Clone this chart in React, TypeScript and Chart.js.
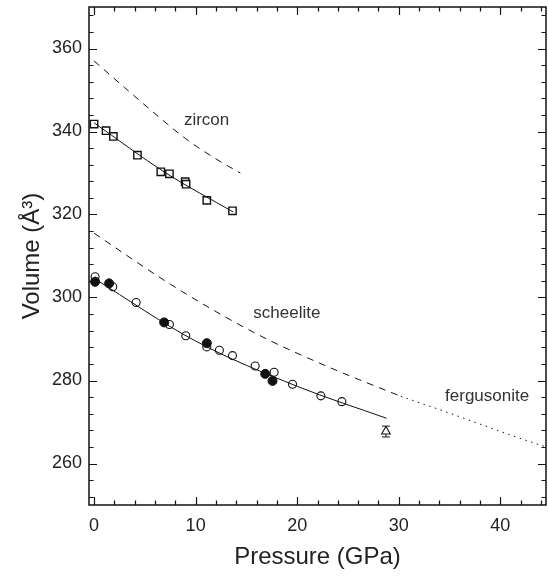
import { useEffect, useRef } from "react";
import { Chart, registerables } from "chart.js";

Chart.register(...registerables);

// ---- data ----
const zirconP = [0.0, 1.18, 1.9, 4.27, 6.57, 7.42, 8.97, 9.06, 11.1, 13.63];
const zirconV = [341.8, 340.2, 338.8, 334.3, 330.3, 329.8, 327.9, 327.3, 323.4, 320.9];

const openP = [0.1, 1.84, 4.14, 7.42, 9.03, 11.1, 12.34, 13.63, 15.86, 17.73, 19.54, 22.33, 24.4];
const openV = [305.0, 302.6, 298.8, 293.5, 290.8, 288.1, 287.3, 286.0, 283.5, 282.0, 279.1, 276.3, 274.9];

const filledP = [0.1, 1.48, 6.9, 11.1, 16.85, 17.57];
const filledV = [303.8, 303.4, 294.0, 289.0, 281.6, 279.9];
const filledErr = [1.2, 1.2, 0.6, 0.8, 0.6, 0.6];

const triP = [28.74];
const triV = [267.7];
const triErr = [1.3];

const zirconFitP = [0, 7, 13.7];
const zirconFitV = [342.1, 330.1, 320.6];

const scheeliteFitP = [0, 10, 20, 28.8];
const scheeliteFitV = [304.6, 289.5, 278.6, 270.9];

const zirconEosP = [0, 3, 6, 9, 12, 14.4];
const zirconEosV = [357.0, 350.6, 344.3, 338.3, 333.4, 330.0];

const scheeliteEosP = [0, 3, 7, 12, 17, 22, 26, 30.2];
const scheeliteEosV = [315.5, 310.5, 304.0, 296.6, 290.0, 284.4, 280.3, 276.2];

const fergusoniteEosP = [30.2, 34, 38, 41.3, 44.5];
const fergusoniteEosV = [276.2, 273.0, 269.5, 266.6, 264.0];

const labelTexts = ["zircon", "scheelite", "fergusonite"];
const labelP = [11.08, 18.98, 38.7];
const labelV = [342.8, 296.3, 276.3];

const xMajorTicks = [0, 10, 20, 30, 40];
const yMajorTicks = [260, 280, 300, 320, 340, 360];

const FONT = '"Liberation Sans", Arial, Helvetica, sans-serif';

const pts = (xs: number[], ys: number[]) => xs.map((x, i) => ({ x, y: ys[i] }));

const framePlugin = {
  id: "frame",
  afterDraw(chart: any) {
    const { ctx, chartArea, scales } = chart;
    const { left, right, top, bottom } = chartArea;
    const xs = scales.x;
    const ys = scales.y;
    ctx.save();
    ctx.strokeStyle = "#111";
    ctx.lineWidth = 1.5;
    ctx.strokeRect(left, top, right - left, bottom - top);
    ctx.lineWidth = 1.2;
    ctx.beginPath();
    for (let v = 0; v <= 44; v += 2) {
      const px = Math.round(xs.getPixelForValue(v)) + 0.5;
      const len = v % 10 === 0 ? 8 : 4.5;
      ctx.moveTo(px, bottom);
      ctx.lineTo(px, bottom - len);
      ctx.moveTo(px, top);
      ctx.lineTo(px, top + len);
    }
    for (let v = 252; v <= 368; v += 4) {
      const py = Math.round(ys.getPixelForValue(v)) + 0.5;
      const len = v % 20 === 0 ? 8 : 4.5;
      ctx.moveTo(left, py);
      ctx.lineTo(left + len, py);
      ctx.moveTo(right, py);
      ctx.lineTo(right - len, py);
    }
    ctx.stroke();
    ctx.restore();
  },
};

const errorPlugin = {
  id: "errbars",
  beforeDatasetsDraw(chart: any) {
    const { ctx, scales } = chart;
    const drawSet = (xsArr: number[], ysArr: number[], errs: number[], cap: number) => {
      ctx.save();
      ctx.strokeStyle = "#111";
      ctx.lineWidth = 1;
      ctx.beginPath();
      xsArr.forEach((x, i) => {
        const px = scales.x.getPixelForValue(x);
        const y1 = scales.y.getPixelForValue(ysArr[i] - errs[i]);
        const y2 = scales.y.getPixelForValue(ysArr[i] + errs[i]);
        ctx.moveTo(px, y1);
        ctx.lineTo(px, y2);
        if (cap > 0) {
          ctx.moveTo(px - cap, y1);
          ctx.lineTo(px + cap, y1);
          ctx.moveTo(px - cap, y2);
          ctx.lineTo(px + cap, y2);
        }
      });
      ctx.stroke();
      ctx.restore();
    };
    drawSet(filledP, filledV, filledErr, 0);
    drawSet(triP, triV, triErr, 4);
  },
};

const labelPlugin = {
  id: "phaseLabels",
  afterDatasetsDraw(chart: any) {
    const { ctx, scales } = chart;
    ctx.save();
    ctx.fillStyle = "#333";
    ctx.font = `17px ${FONT}`;
    ctx.textAlign = "center";
    ctx.textBaseline = "middle";
    labelTexts.forEach((t, i) => {
      ctx.fillText(t, scales.x.getPixelForValue(labelP[i]), scales.y.getPixelForValue(labelV[i]));
    });
    ctx.restore();
  },
};

export default function App() {
  const ref = useRef<HTMLCanvasElement>(null);
  useEffect(() => {
    const canvas = ref.current;
    if (!canvas) return;
    const lineBase = {
      showLine: true,
      pointRadius: 0,
      pointHoverRadius: 0,
      borderColor: "#111",
      borderWidth: 1,
      tension: 0.4,
      cubicInterpolationMode: "monotone" as const,
      fill: false,
    };
    const chart = new Chart(canvas, {
      type: "scatter",
      data: {
        datasets: [
          { ...lineBase, data: pts(zirconEosP, zirconEosV), borderDash: [7, 6] },
          { ...lineBase, data: pts(scheeliteEosP, scheeliteEosV), borderDash: [7, 6] },
          { ...lineBase, data: pts(fergusoniteEosP, fergusoniteEosV), borderDash: [1.5, 4.5] },
          { ...lineBase, data: pts(zirconFitP, zirconFitV) },
          { ...lineBase, data: pts(scheeliteFitP, scheeliteFitV) },
          {
            data: pts(zirconP, zirconV),
            pointStyle: "rect",
            pointRadius: 5.2,
            borderColor: "#111",
            backgroundColor: "#fff",
            borderWidth: 1.4,
          },
          {
            data: pts(filledP, filledV),
            pointStyle: "circle",
            pointRadius: 4.5,
            borderColor: "#111",
            backgroundColor: "#111",
            borderWidth: 1,
          },
          {
            data: pts(openP, openV),
            pointStyle: "circle",
            pointRadius: 4,
            borderColor: "#111",
            backgroundColor: "rgba(255,255,255,0)",
            borderWidth: 1.1,
          },
          {
            data: pts(triP, triV),
            pointStyle: "triangle",
            pointRadius: 5,
            borderColor: "#111",
            backgroundColor: "#fff",
            borderWidth: 1.1,
          },
        ],
      },
      options: {
        animation: false,
        responsive: false,
        devicePixelRatio: 1,
        layout: { autoPadding: false, padding: { top: 7, right: 2, left: 0, bottom: 0 } },
        plugins: {
          legend: { display: false },
          tooltip: { enabled: false },
        },
        scales: {
          x: {
            type: "linear",
            min: -0.5,
            max: 44.5,
            grid: { display: false, drawTicks: false },
            border: { display: false },
            afterBuildTicks: (s: any) => {
              s.ticks = xMajorTicks.map((v) => ({ value: v }));
            },
            afterFit: (s: any) => {
              s.height = 71;
              s.paddingLeft = 0;
              s.paddingRight = 0;
              s.paddingTop = 0;
              s.paddingBottom = 0;
            },
            ticks: {
              color: "#222",
              font: { family: FONT, size: 18 },
              padding: 10,
              maxRotation: 0,
            },
            title: {
              display: true,
              text: "Pressure (GPa)",
              color: "#222",
              font: { family: FONT, size: 24 },
              padding: { top: 0, bottom: 4 },
            },
          },
          y: {
            type: "linear",
            min: 250,
            max: 370,
            grid: { display: false, drawTicks: false },
            border: { display: false },
            afterBuildTicks: (s: any) => {
              s.ticks = yMajorTicks.map((v) => ({ value: v }));
            },
            afterFit: (s: any) => {
              s.width = 89;
              s.paddingLeft = 0;
              s.paddingRight = 0;
              s.paddingTop = 0;
              s.paddingBottom = 0;
            },
            ticks: {
              color: "#222",
              font: { family: FONT, size: 18 },
              padding: 7,
            },
            title: {
              display: true,
              text: "Volume (Å³)",
              color: "#222",
              font: { family: FONT, size: 24 },
              padding: { top: 18, bottom: 0 },
            },
          },
        },
      },
      plugins: [errorPlugin, labelPlugin, framePlugin],
    });
    return () => chart.destroy();
  }, []);
  return (
    <div style={{ position: "fixed", left: 0, top: 0, width: 548, height: 576, background: "#fff" }}>
      <canvas ref={ref} width={548} height={576} style={{ display: "block" }} />
    </div>
  );
}
